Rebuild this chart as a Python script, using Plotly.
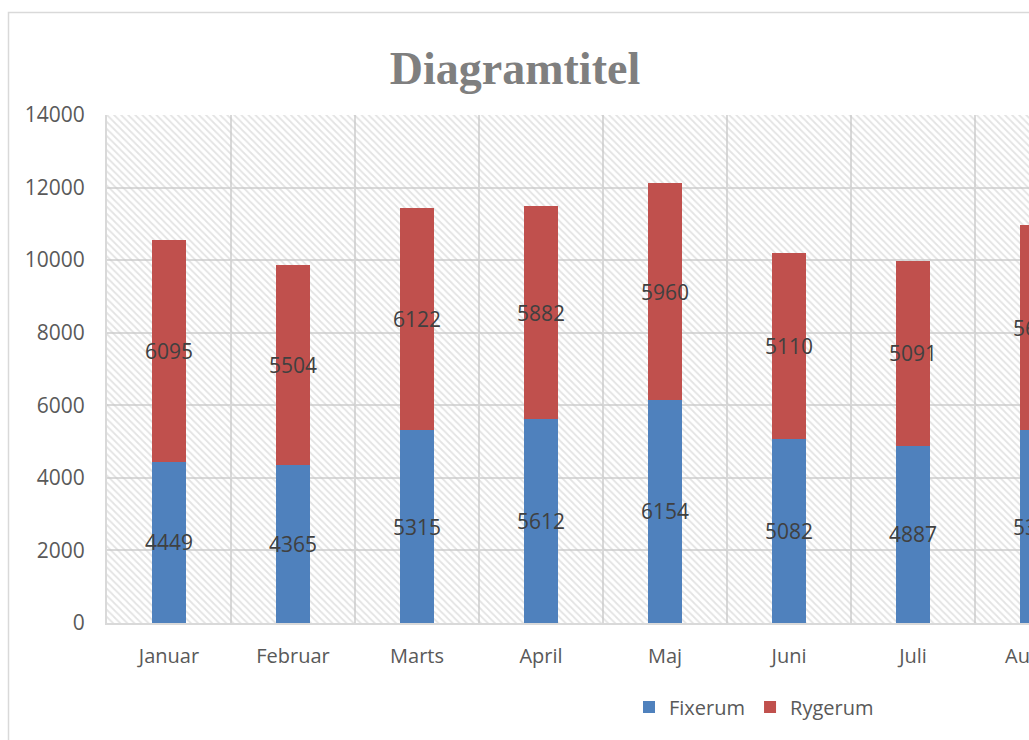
import plotly.graph_objects as go

# ---- data ----
months = ["Januar", "Februar", "Marts", "April", "Maj", "Juni", "Juli", "August"]
fixerum = [4449, 4365, 5315, 5612, 6154, 5082, 4887, 5318]
rygerum = [6095, 5504, 6122, 5882, 5960, 5110, 5091, 5650]
series_names = ["Fixerum", "Rygerum"]
series_colors = ["#4F81BD", "#C0504D"]
y_max = 14000
y_step = 2000
title_text = "Diagramtitel"

# ---- geometry (body margin removed by post_script) ----
O = 0
W, H = 1029, 740
L, T = 107, 115
plot_bottom = 623
B = H - plot_bottom
R = 0
pw, ph = W - L - R, H - T - B
cat_px = 124.0  # pixel spacing between categories


def px(p):  # p: screen pixel x
    return (p - O - L) / pw


def py(q):  # q: screen pixel y
    return (plot_bottom - (q - O)) / ph


fig = go.Figure()

# hatched plot-area background (on the hidden base axis)
fig.add_trace(go.Bar(
    x=[0.5], y=[y_max], width=[1], xaxis="x", yaxis="y",
    marker=dict(color="rgba(0,0,0,0)", line=dict(width=0),
                pattern=dict(shape="\\", size=5, solidity=0.35,
                             fgcolor="#c8c8c8", bgcolor="rgba(0,0,0,0)")),
    showlegend=False, hoverinfo="skip",
))

for name, vals, col in zip(series_names, [fixerum, rygerum], series_colors):
    fig.add_trace(go.Bar(
        x=months, y=vals, name=name, xaxis="x2", yaxis="y",
        marker=dict(color=col, line=dict(width=0)), width=0.27,
        text=[str(v) for v in vals], textposition="inside", textangle=0,
        insidetextanchor="middle", constraintext="none",
        textfont=dict(family="Open Sans", size=21, color="#404040"),
        cliponaxis=True,
    ))

grid_col = "#d9d9d9"
fig.update_layout(
    width=W, height=H,
    margin=dict(l=L, r=R, t=T, b=B, pad=0),
    paper_bgcolor="white", plot_bgcolor="white",
    font=dict(family="Open Sans", color="#595959"),
    barmode="stack",
    title=dict(text=title_text, x=(515 - O) / W, xref="container", xanchor="center",
               y=1 - (68 - O) / H, yref="container", yanchor="middle",
               font=dict(family="Liberation Serif", size=46, color="#7f7f7f", weight="bold")),
    xaxis=dict(range=[0, 1], visible=False, fixedrange=True),
    xaxis2=dict(overlaying="x", anchor="y", type="category",
                categoryorder="array", categoryarray=months,
                range=[-0.5, -0.5 + pw / cat_px],
                tickson="boundaries", ticks="", showgrid=True,
                gridcolor=grid_col, gridwidth=2,
                showline=True, linecolor=grid_col, linewidth=2,
                tickfont=dict(size=20, color="#595959"),
                ticklabelstandoff=14),
    yaxis=dict(range=[0, y_max], dtick=y_step, tick0=0, tickformat="d",
               showgrid=True, gridcolor=grid_col, gridwidth=2, zeroline=False,
               showline=True, linecolor=grid_col, linewidth=2, ticks="",
               tickfont=dict(size=21, color="#595959"),
               ticklabelstandoff=16),
    legend=dict(orientation="h", x=px(629), y=py(707), xanchor="left",
                yanchor="middle", font=dict(size=20, color="#595959"),
                bgcolor="rgba(0,0,0,0)", traceorder="normal"),
    showlegend=True,
)

# partially visible last category label
fig.add_annotation(text=months[-1], xref="paper", yref="paper",
                   x=px(L + O + (len(months) - 0.5) * cat_px), y=py(655),
                   xanchor="center", yanchor="middle", showarrow=False,
                   font=dict(size=20, color="#595959"))

# chart-area border
fig.add_shape(type="rect", xref="paper", yref="paper",
              x0=px(8.5), x1=px(1200), y0=py(900), y1=py(12.5),
              line=dict(color=grid_col, width=1.5), fillcolor="rgba(0,0,0,0)",
              layer="above")

fig.write_html("out.html",
               config={"displayModeBar": False},
               post_script="document.body.style.margin='0';"
                           "document.body.style.overflow='hidden';")
